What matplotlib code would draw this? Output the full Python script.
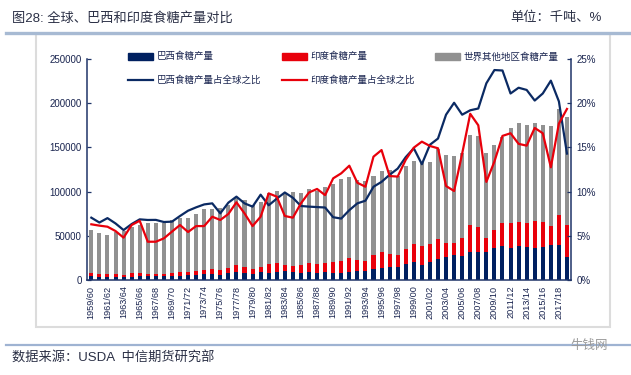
import matplotlib
matplotlib.use('Agg')
import matplotlib.pyplot as plt
import numpy as np
from matplotlib.lines import Line2D
from matplotlib.patches import Patch, Rectangle

plt.rcParams['font.family'] = ['Liberation Sans', 'Noto Sans CJK SC', 'DejaVu Sans']

# ---------------- data (thousand tonnes / %) ----------------
seasons = [f"{y}/{str(y + 1)[-2:]}" for y in range(1959, 2019)]

world_total = [57000, 53000, 50500, 54500, 55000, 60000, 62000, 64500, 65000, 64500,
               68400, 70200, 70500, 74300, 80700, 80600, 81800, 84500, 93100, 90800,
               84500, 88200, 98700, 100200, 97600, 99000, 98000, 103200, 100500, 105100,
               108900, 113700, 116800, 112600, 111900, 117100, 123100, 123900, 118200, 129500,
               135100, 133200, 134000, 148300, 141900, 140400, 144100, 164400, 162900, 143400,
               152800, 162200, 171900, 177900, 175700, 177100, 175000, 174000, 193400, 184700]

brazil = [4020, 3450, 3540, 3490, 3110, 3800, 4250, 4380, 4420, 4230,
          4510, 5080, 5530, 6110, 6900, 6990, 6170, 7390, 8780, 7870,
          7010, 8510, 8340, 9220, 9660, 9210, 8200, 8570, 8290, 8620,
          7730, 7900, 9230, 9760, 10040, 12350, 13660, 14740, 14890, 18000,
          20130, 17450, 20500, 23730, 26540, 28150, 26950, 31570, 31600, 31910,
          36290, 38440, 36270, 38690, 37780, 35950, 36930, 39240, 39070, 26410]

india = [3590, 3260, 3050, 3020, 2640, 3730, 4150, 2790, 2820, 3040,
         3740, 4370, 3830, 4530, 4920, 5770, 5550, 6310, 8180, 6850,
         5160, 6320, 9670, 9450, 7070, 6980, 8500, 10220, 10350, 10090,
         12520, 13720, 15100, 12390, 11810, 16340, 18100, 14570, 13830, 17610,
         20220, 20850, 20310, 22100, 15080, 14140, 20610, 30910, 28510, 15920,
         20480, 26440, 28540, 27400, 26710, 30460, 29050, 22190, 34230, 35740]

brazil_share = [7.05, 6.5, 7.0, 6.4, 5.65, 6.33, 6.86, 6.79, 6.8, 6.56,
                6.6, 7.24, 7.84, 8.22, 8.55, 8.67, 7.54, 8.75, 9.43, 8.67,
                8.3, 9.65, 8.45, 9.2, 9.9, 9.3, 8.37, 8.3, 8.25, 8.2,
                7.1, 6.95, 7.9, 8.67, 8.97, 10.55, 11.1, 11.9, 12.6, 13.9,
                14.9, 13.1, 15.3, 16.0, 18.7, 20.05, 18.7, 19.2, 19.4, 22.25,
                23.75, 23.7, 21.1, 21.75, 21.5, 20.3, 21.1, 22.55, 20.2, 14.3]

india_share = [6.3, 6.15, 6.03, 5.54, 4.79, 6.22, 6.7, 4.33, 4.33, 4.71,
               5.47, 6.22, 5.43, 6.1, 6.1, 7.16, 6.79, 7.47, 8.79, 7.54,
               6.1, 7.16, 9.8, 9.43, 7.24, 7.05, 8.67, 9.9, 10.3, 9.6,
               11.5, 12.07, 12.93, 11.0, 10.55, 13.95, 14.7, 11.76, 11.7, 13.6,
               14.97, 15.65, 15.16, 14.9, 10.63, 10.07, 14.3, 18.8, 17.5, 11.1,
               13.4, 16.3, 16.6, 15.4, 15.2, 17.2, 16.6, 12.75, 17.7, 19.35]

series_names = ['巴西食糖产量', '印度食糖产量', '世界其他地区食糖产量',
                '巴西食糖产量占全球之比', '印度食糖产量占全球之比']

# ---------------- style ----------------
NAVY = '#002060'
RED = '#e8000b'
GRAY = '#919191'
LINE_NAVY = '#0b2a63'
AXIS_C = '#1f3468'
TXT = '#1a2550'

W, H = 631, 375
fig = plt.figure(figsize=(W / 100, H / 100), dpi=100)

# frame decorations
fig.add_artist(Rectangle((36 / W, 1 - 327 / H), (610 - 36) / W, (327 - 34) / H,
                         transform=fig.transFigure, fill=False,
                         edgecolor='#dcdcdc', lw=1.5))
fig.add_artist(Line2D([6 / W, 1.0], [1 - 33 / H, 1 - 33 / H], transform=fig.transFigure,
                      color='#a7bad3', lw=2.4))
fig.add_artist(Line2D([6 / W, 1.0], [1 - 345 / H, 1 - 345 / H], transform=fig.transFigure,
                      color='#9fb3d2', lw=1.6))

fig.text(12 / W, 1 - 18 / H, '图28: 全球、巴西和印度食糖产量对比', fontsize=9.5,
         color='#2a2f45', va='center', ha='left')
fig.text(602 / W, 1 - 18 / H, '单位：千吨、%', fontsize=9.5,
         color='#2a2f45', va='center', ha='right')
fig.text(12 / W, 1 - 358 / H, '数据来源：USDA  中信期货研究部', fontsize=9.5,
         color='#2a2f45', va='center', ha='left')
fig.text(608 / W, 1 - 346 / H, '牛钱网', fontsize=9, color='#9a9a9a',
         va='center', ha='right')

# ---------------- axes ----------------
left, right, top, bottom = 87.3, 571, 59, 280
ax = fig.add_axes([left / W, 1 - bottom / H, (right - left) / W, (bottom - top) / H])
x = np.arange(len(seasons))
brazil_a = np.array(brazil)
india_a = np.array(india)
rest = np.array(world_total) - brazil_a - india_a

bw = 0.5
ax.bar(x, brazil_a, width=bw, color=NAVY, zorder=2)
ax.bar(x, india_a, width=bw, bottom=brazil_a, color=RED, zorder=2)
ax.bar(x, rest, width=bw, bottom=brazil_a + india_a, color=GRAY, zorder=2)

ax.set_xlim(-0.5, len(seasons) - 0.5)
ax.set_ylim(0, 250000)
ax.set_yticks(range(0, 250001, 50000))
ax.set_yticklabels([str(v) for v in range(0, 250001, 50000)])
ax.set_xticks(x[::2])
ax.set_xticklabels(seasons[::2], rotation=90)

ax2 = ax.twinx()
ax2.plot(x, brazil_share, color=LINE_NAVY, lw=1.6, solid_joinstyle='round')
ax2.plot(x, india_share, color=RED, lw=1.6, solid_joinstyle='round')
ax2.set_ylim(0, 25)
ax2.set_yticks(range(0, 26, 5))
ax2.set_yticklabels([f'{v}%' for v in range(0, 26, 5)])

for a in (ax, ax2):
    a.spines['top'].set_visible(False)
    for s in ('left', 'right', 'bottom'):
        a.spines[s].set_color(AXIS_C)
        a.spines[s].set_linewidth(1.1)
    a.tick_params(axis='y', direction='in', length=3, width=0.9, color=AXIS_C,
                  labelsize=7, labelcolor=TXT, pad=4)
    a.tick_params(axis='x', length=0, labelsize=6.6, labelcolor=TXT, pad=4)
ax.spines['right'].set_visible(False)
ax2.spines['left'].set_visible(False)
ax2.spines['bottom'].set_visible(False)

handles = [Patch(color=NAVY), Line2D([], [], color=LINE_NAVY, lw=1.6),
           Patch(color=RED), Line2D([], [], color=RED, lw=1.6),
           Patch(color=GRAY)]
labels = [series_names[0], series_names[3], series_names[1], series_names[4], series_names[2]]
leg = ax2.legend(handles, labels, ncol=3, loc='upper left',
                 bbox_to_anchor=(128 / W, 1 - 52 / H), bbox_transform=fig.transFigure,
                 frameon=False, fontsize=6.8, handlelength=2.65, handleheight=0.7,
                 handletextpad=0.35, columnspacing=2.2, labelspacing=1.5,
                 borderpad=0, borderaxespad=0)
for t in leg.get_texts():
    t.set_color(TXT)

fig.savefig('out.png', dpi=100)
